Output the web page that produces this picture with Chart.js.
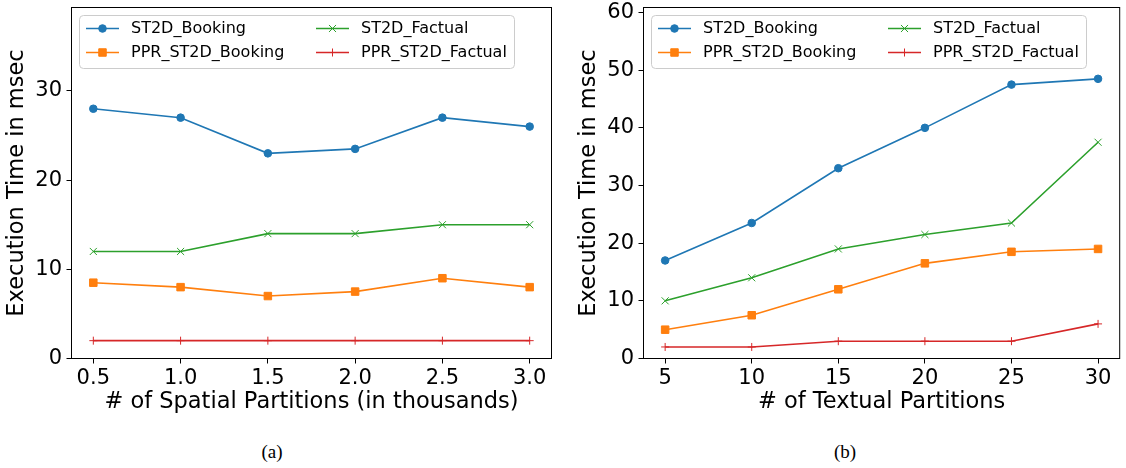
<!DOCTYPE html>
<html>
<head>
<meta charset="utf-8">
<script src="https://cdn.jsdelivr.net/npm/chart.js@4.4.1/dist/chart.umd.min.js"></script>
<style>
  body { margin: 0; background: #fff; width: 1126px; height: 468px; position: relative; overflow: hidden; }
  .box { position: absolute; top: 0; height: 430px; }
  .cap { position: absolute; top: 441px; font-family: "Liberation Serif", serif; font-size: 19px; transform: translateX(-50%); }
</style>
</head>
<body>
<div class="box" style="left:0;width:560px"><canvas id="chartA"></canvas></div>
<div class="box" style="left:572px;width:554px"><canvas id="chartB"></canvas></div>
<div class="cap" style="left:272px">(a)</div>
<div class="cap" style="left:845px">(b)</div>
<script>
const seriesNames = ['ST2D_Booking', 'PPR_ST2D_Booking', 'ST2D_Factual', 'PPR_ST2D_Factual']

// (a) spatial partitions, in thousands
const spatialParts = [0.5, 1.0, 1.5, 2.0, 2.5, 3.0]
const spatialTickLabels = ['0.5', '1.0', '1.5', '2.0', '2.5', '3.0']
const spatialBooking = [28, 27, 23, 23.5, 27, 26]
const spatialPprBooking = [8.5, 8, 7, 7.5, 9, 8]
const spatialFactual = [12, 12, 14, 14, 15, 15]
const spatialPprFactual = [2, 2, 2, 2, 2, 2]
const spatialYTicks = [0, 10, 20, 30]

// (b) textual partitions
const textualParts = [5, 10, 15, 20, 25, 30]
const textualTickLabels = ['5', '10', '15', '20', '25', '30']
const textualBooking = [17, 23.5, 33, 40, 47.5, 48.5]
const textualPprBooking = [5, 7.5, 12, 16.5, 18.5, 19]
const textualFactual = [10, 14, 19, 21.5, 23.5, 37.5]
const textualPprFactual = [2, 2, 3, 3, 3, 6]
const textualYTicks = [0, 10, 20, 30, 40, 50, 60]

const looks = [
  {color: '#1f77b4', pointStyle: 'circle', radius: 3.8},
  {color: '#ff7f0e', pointStyle: 'rect', radius: 5.3},
  {color: '#2ca02c', pointStyle: 'crossRot', radius: 5},
  {color: '#d62728', pointStyle: 'cross', radius: 4}
]

Chart.defaults.font.family = '"DejaVu Sans", sans-serif'
Chart.defaults.color = '#000'

// matplotlib style box round the axes
const axesFrame = {
  id: 'axesFrame',
  afterDatasetsDraw(chart) {
    const {ctx, chartArea: a} = chart
    ctx.save()
    ctx.strokeStyle = '#000'
    ctx.lineWidth = 1
    ctx.strokeRect(a.left, a.top, a.right - a.left, a.bottom - a.top)
    ctx.restore()
  }
}

// legend inside the plot, 2 columns
const boxLegend = {
  id: 'boxLegend',
  afterDraw(chart) {
    const {ctx, chartArea: a} = chart
    ctx.save()
    ctx.beginPath()
    ctx.roundRect(a.left + 8, 15.5, 435, 53, 4)
    ctx.fillStyle = 'rgba(255,255,255,0.8)'
    ctx.fill()
    ctx.strokeStyle = '#cccccc'
    ctx.lineWidth = 1
    ctx.stroke()
    ctx.font = '16px "DejaVu Sans"'
    ctx.textBaseline = 'middle'
    chart.data.datasets.forEach((ds, i) => {
      const lx = a.left + (i < 2 ? 14.5 : 244.5)
      const ly = i % 2 ? 52.5 : 28.5
      ctx.strokeStyle = ds.borderColor
      ctx.lineWidth = ds.borderWidth
      ctx.beginPath()
      ctx.moveTo(lx, ly)
      ctx.lineTo(lx + 33, ly)
      ctx.stroke()
      ctx.fillStyle = ds.backgroundColor
      ctx.lineWidth = 1
      Chart.helpers.drawPoint(ctx, {pointStyle: ds.pointStyle, radius: ds.pointRadius, rotation: 0, borderWidth: 1}, lx + 16.5, ly)
      ctx.fillStyle = '#000'
      ctx.fillText(ds.label, lx + 45, ly)
    })
    ctx.restore()
  }
}

function makeChart(id, xs, xLabels, xTitle, yTicks, yMax, series, rightPad) {
  const margin = (xs[xs.length - 1] - xs[0]) * 0.05
  return new Chart(document.getElementById(id), {
    type: 'line',
    data: {
      datasets: series.map((ys, i) => ({
        label: seriesNames[i],
        data: xs.map((x, j) => ({x: x, y: ys[j]})),
        borderColor: looks[i].color,
        backgroundColor: looks[i].color,
        borderWidth: 1.6,
        pointStyle: looks[i].pointStyle,
        pointRadius: looks[i].radius,
        pointBorderWidth: 1,
        tension: 0
      }))
    },
    options: {
      responsive: true,
      maintainAspectRatio: false,
      animation: false,
      layout: {padding: {top: 7.5, left: 0, right: rightPad, bottom: 0}},
      plugins: {legend: {display: false}, tooltip: {enabled: false}},
      scales: {
        x: {
          type: 'linear',
          min: xs[0] - margin,
          max: xs[xs.length - 1] + margin,
          afterBuildTicks: s => { s.ticks = xs.map(v => ({value: v})) },
          afterFit: s => { s.height = 430 - 358.5; s.paddingLeft = 0; s.paddingRight = 0 },
          border: {display: false},
          grid: {drawOnChartArea: false, tickLength: 5, color: '#000', lineWidth: 1},
          ticks: {
            callback: (v, i) => xLabels[i],
            font: {size: 21},
            padding: 2,
            maxRotation: 0,
            autoSkip: false
          },
          title: {display: true, text: xTitle, font: {size: 22.5}, padding: {top: 0, bottom: 14}}
        },
        y: {
          min: 0,
          max: yMax,
          afterBuildTicks: s => { s.ticks = yTicks.map(v => ({value: v})) },
          afterFit: s => { s.width = 71.5; s.paddingTop = 0; s.paddingBottom = 0 },
          border: {display: false},
          grid: {drawOnChartArea: false, tickLength: 5, color: '#000', lineWidth: 1},
          ticks: {font: {size: 21}, padding: 4.5},
          title: {display: true, text: 'Execution Time in msec', font: {size: 22.5}, padding: {top: 4, bottom: 0}}
        }
      }
    },
    plugins: [axesFrame, boxLegend]
  })
}

makeChart('chartA', spatialParts, spatialTickLabels, '# of Spatial Partitions (in thousands)',
  spatialYTicks, 39.35, [spatialBooking, spatialPprBooking, spatialFactual, spatialPprFactual], 8.5)
makeChart('chartB', textualParts, textualTickLabels, '# of Textual Partitions',
  textualYTicks, 60.87, [textualBooking, textualPprBooking, textualFactual, textualPprFactual], 3.5)
</script>
</body>
</html>
